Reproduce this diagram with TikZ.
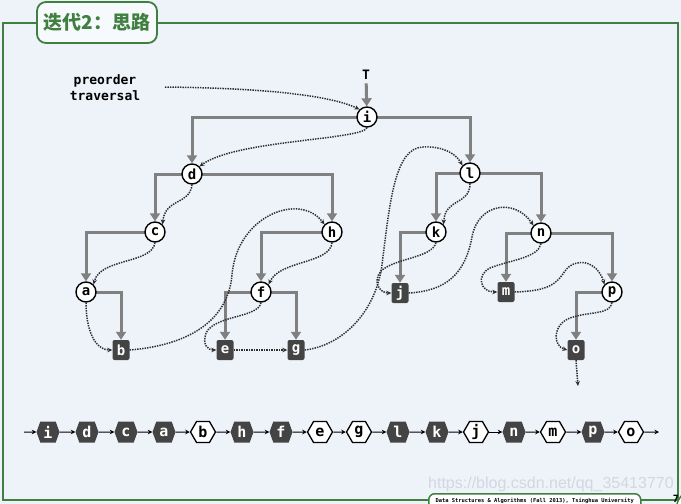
\documentclass[tikz,border=0pt]{standalone}
\usepackage{fontspec}
\setmonofont{DejaVu Sans Mono}
\newfontfamily\cjk{Noto Sans CJK SC}
\newfontfamily\wmfont{Liberation Sans}
\usetikzlibrary{arrows.meta,shapes.symbols}
\definecolor{bgc}{HTML}{EEF3FA}
\definecolor{frm}{HTML}{3F7F3F}
\definecolor{edg}{HTML}{808080}
\definecolor{trv}{HTML}{2E2E2E}
\definecolor{dk}{HTML}{444444}
\definecolor{wm}{HTML}{D3D8E0}
\pgfdeclarelayer{back}\pgfdeclarelayer{bg}\pgfsetlayers{back,bg,main}
\begin{document}
\begin{tikzpicture}[x=1pt,y=-1pt,
 cnode/.style={circle,draw=black,line width=1.4pt,fill=white,minimum size=20pt,inner sep=0pt,font=\ttfamily\bfseries\fontsize{14}{14}\selectfont},
 snode/.style={rectangle,rounded corners=2pt,fill=dk,text=white,minimum width=17pt,minimum height=20pt,inner sep=0pt,font=\ttfamily\bfseries\fontsize{14}{14}\selectfont},
 tedge/.style={draw=edg,line width=3pt,-{Triangle[length=8pt,width=10pt]}},
 trav/.style={draw=trv,line width=1.5pt,dash pattern=on 1.4pt off 1.1pt,-{Stealth[length=5pt,width=4.5pt]}},
 hexd/.style={signal,signal to=west and east,signal pointer angle=140,fill=dk,text=white,minimum width=23pt,minimum height=21pt,inner sep=0pt,font=\ttfamily\bfseries\fontsize{15}{15}\selectfont},
 hexw/.style={hexd,signal pointer angle=120,minimum width=25pt,fill=white,draw=black,line width=1.3pt,text=black},
 sarr/.style={draw=black,line width=1pt,-{Stealth[length=4.5pt,width=4.5pt]}},
 lbl/.style={font=\ttfamily\bfseries\fontsize{13}{16}\selectfont}
]
\useasboundingbox (0,0) rectangle (681,504);
\begin{pgfonlayer}{back}
\fill[bgc] (0,0) rectangle (681,504);
\node[font=\wmfont\fontsize{16}{16}\selectfont,text=wm,anchor=west,inner sep=0pt] (wmk) at (428,484) {https://blog.csdn.net/qq\_35413770};
\end{pgfonlayer}
% frame
\draw[frm,line width=1.8pt] (37,23) -- (3,23) -- (3,500) -- (430,500);
\draw[frm,line width=1.8pt] (157,23) -- (678,23) -- (678,500) -- (640,500);
\node[draw=frm,line width=1.8pt,fill=white!55!bgc,rounded corners=9pt,minimum width=120pt,minimum height=41pt,inner sep=0pt,
      font=\cjk\bfseries\fontsize{19}{19}\selectfont,text=frm] (title) at (97,22.5) {迭代2：思路};
\node[draw=frm,line width=1.5pt,fill=white,rounded corners=6pt,minimum width=212pt,minimum height=20pt,inner sep=0pt,anchor=north west,
      font=\ttfamily\bfseries\fontsize{5.4}{6}\selectfont] (foot) at (428,493) {\raisebox{6pt}{Data Structures \& Algorithms (Fall 2013), Tsinghua University}};
\node[draw=frm,line width=1.5pt,fill=white,circle,minimum size=28pt,inner sep=0pt] (pg) at (691,506) {};
\node[font=\ttfamily\bfseries\fontsize{10}{10}\selectfont,inner sep=0pt] (pgn) at (676,499) {7};

% labels
\node[lbl,align=center] (pre) at (105,88) {preorder\\traversal};
\node[font=\ttfamily\bfseries\fontsize{13}{13}\selectfont] (T) at (366,75) {T};

% tree nodes
\node[cnode] (i) at (367,117) {i};
\node[cnode] (d) at (192,174) {d};
\node[cnode] (l) at (470,173) {l};
\node[cnode] (c) at (155,232) {c};
\node[cnode] (h) at (332,232) {h};
\node[cnode] (k) at (436,232) {k};
\node[cnode] (n) at (541,233) {n};
\node[cnode] (a) at (86,292) {a};
\node[cnode] (f) at (261,292) {f};
\node[snode] (j) at (400,293) {j};
\node[snode] (m) at (506,292) {m};
\node[cnode] (p) at (612,292) {p};
\node[snode] (b) at (121,350) {b};
\node[snode] (e) at (225,350) {e};
\node[snode] (g) at (296,350) {g};
\node[snode] (o) at (576,350) {o};

\begin{pgfonlayer}{bg}
\draw[tedge] (T) -- (i);
\draw[tedge] (i.center) -| (d);
\draw[tedge] (i.center) -| (l);
\draw[tedge] (d.center) -| (c);
\draw[tedge] (d.center) -| (h);
\draw[tedge] (c.center) -| (a);
\draw[tedge] (h.center) -| (f);
\draw[tedge] (a.center) -| (b);
\draw[tedge] (f.center) -| (e);
\draw[tedge] (f.center) -| (g);
\draw[tedge] (l.center) -| (k);
\draw[tedge] (l.center) -| (n);
\draw[tedge] (k.center) -| (j);
\draw[tedge] (n.center) -| (m);
\draw[tedge] (n.center) -| (p);
\draw[tedge] (p.center) -| (o);
\end{pgfonlayer}

% traversal
\coordinate (s0) at (165,87);
\coordinate (oend) at (578,386);
\draw[trav] (s0) .. controls (260,88) and (330,95) .. (i.north west);
\draw[trav] (i.south) .. controls (362,140) and (235,140) .. (d.north east);
\draw[trav] (d.south) .. controls (190,205) and (165,198) .. (c.north east);
\draw[trav] (c.south) .. controls (152,264) and (100,258) .. (a.north east);
\draw[trav] (a.south) .. controls (86,330) and (95,350) .. (b.west);
\draw[trav] (b.east) .. controls (190,345) and (228,320) .. (232,275) .. controls (237,215) and (300,192) .. (h.north west);
\draw[trav] (h.south) .. controls (330,264) and (280,260) .. (f.north east);
\draw[trav] (f.south) .. controls (258,318) and (215,315) .. (206,333) .. controls (202,345) and (208,350) .. (e.west);
\draw[trav] (e.east) -- (g.west);
\draw[trav] (g.east) .. controls (340,346) and (375,315) .. (382,265) .. controls (390,200) and (395,148) .. (423,147) .. controls (440,146) and (455,152) .. (l.north west);
\draw[trav] (l.south) .. controls (470,205) and (445,198) .. (k.north east);
\draw[trav] (k.south) .. controls (432,258) and (395,258) .. (381,271) .. controls (372,282) and (380,293) .. (j.west);
\draw[trav] (j.east) .. controls (445,291) and (465,275) .. (472,237) .. controls (478,203) and (515,198) .. (n.north west);
\draw[trav] (n.south) .. controls (538,258) and (510,260) .. (490,268) .. controls (476,275) and (480,292) .. (m.west);
\draw[trav] (m.east) .. controls (550,291) and (557,283) .. (565,271) .. controls (575,257) and (597,260) .. (p.north west);
\draw[trav] (p.south) .. controls (610,315) and (590,311) .. (570,318) .. controls (552,325) and (553,346) .. (o.west);
\draw[trav] (o.south) -- (oend);

% sequence
\coordinate (q0) at (24,432);
\node[hexd] (q1) at (48,432) {i};
\node[hexd] (q2) at (87,432) {d};
\node[hexd] (q3) at (126,432) {c};
\node[hexd] (q4) at (164,432) {a};
\node[hexw] (q5) at (203,432) {b};
\node[hexd] (q6) at (242,432) {h};
\node[hexd] (q7) at (281,432) {f};
\node[hexw] (q8) at (320,432) {e};
\node[hexw] (q9) at (359,432) {g};
\node[hexd] (q10) at (398,432) {l};
\node[hexd] (q11) at (437,432) {k};
\node[hexw] (q12) at (476,432) {j};
\node[hexd] (q13) at (514,432) {n};
\node[hexw] (q14) at (553,432) {m};
\node[hexd] (q15) at (593,432) {p};
\node[hexw] (q16) at (631,432) {o};
\coordinate (q17) at (659,432);
\foreach \u/\v in {q0/q1,q1/q2,q2/q3,q3/q4,q4/q5,q5/q6,q6/q7,q7/q8,q8/q9,q9/q10,q10/q11,q11/q12,q12/q13,q13/q14,q14/q15,q15/q16,q16/q17}
  \draw[sarr] (\u) -- (\v);
\end{tikzpicture}
\end{document}
